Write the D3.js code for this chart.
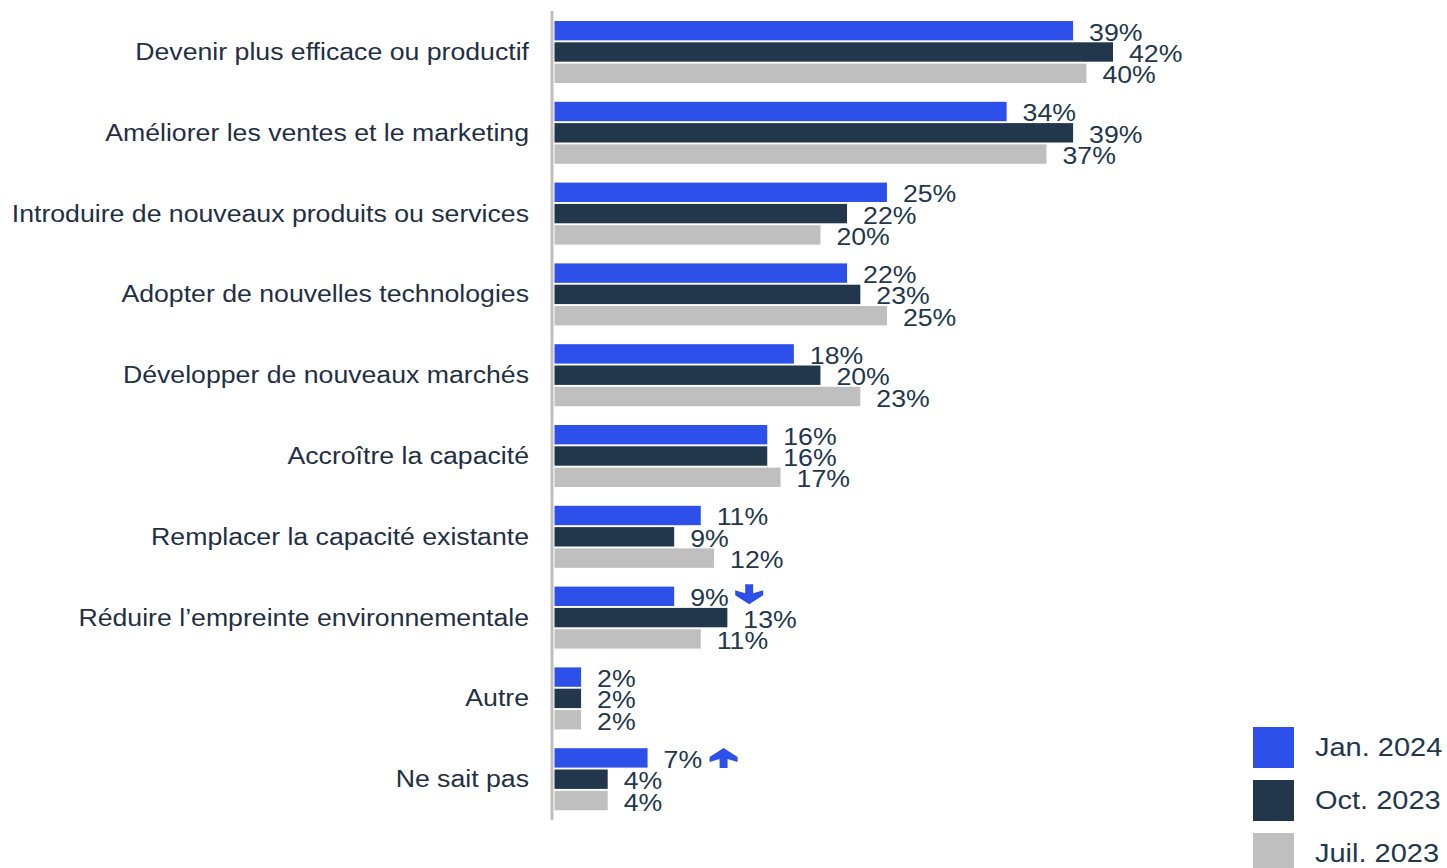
<!DOCTYPE html>
<html><head><meta charset="utf-8">
<script src="https://cdn.jsdelivr.net/npm/d3@7"></script>
<style>body{margin:0;background:#fff;overflow:hidden}svg{display:block;font-family:"Liberation Sans",Arial,sans-serif}</style>
</head><body><svg id="c" width="1447" height="868"></svg>
<script>
const categories = ["Devenir plus efficace ou productif","Améliorer les ventes et le marketing","Introduire de nouveaux produits ou services","Adopter de nouvelles technologies","Développer de nouveaux marchés","Accroître la capacité","Remplacer la capacité existante","Réduire l’empreinte environnementale","Autre","Ne sait pas"];
const seriesNames = ["Jan. 2024","Oct. 2023","Juil. 2023"];
const jan2024 = [39,34,25,22,18,16,11,9,2,7];
const oct2023 = [42,39,22,23,20,16,9,13,2,4];
const juil2023 = [40,37,20,25,23,17,12,11,2,4];
const arrows = [null,null,null,null,null,null,null,"down",null,"up"];
const colors = ["#2d50eb","#22374b","#bfbfbf"];
const series = [jan2024, oct2023, juil2023];
const SX = 1.16;

const svg = d3.select("#c");
const x = d3.scaleLinear().domain([0,42]).range([554.5,1113]);
const y = d3.scaleBand().domain(categories).range([21,810.2]).paddingInner(0.2327).paddingOuter(0);
const ySub = d3.scaleBand().domain(d3.range(3)).range([0,y.bandwidth()]).paddingInner(0.09);

svg.append("line").attr("x1",552).attr("x2",552).attr("y1",11).attr("y2",820)
  .attr("stroke","#bfbfbf").attr("stroke-width",3);

function stext(g, tx, ty, str, size, anchor, fill){
  return g.append("text").attr("transform",`translate(${tx},${ty}) scale(${SX},1)`)
    .attr("text-anchor",anchor).attr("font-size",size).attr("fill",fill).text(str);
}

categories.forEach((c,i)=>{
  const g = svg.append("g").attr("transform",`translate(0,${y(c)})`);
  series.forEach((s,j)=>{
    g.append("rect").attr("x",x(0)).attr("y",ySub(j)).attr("width",x(s[i])-x(0)).attr("height",ySub.bandwidth()).attr("fill",colors[j]);
    stext(g, x(s[i])+16, ySub(j)+ySub.bandwidth()/2+10, s[i]+"%", 23, "start", "#22374b");
  });
  stext(g, 529, y.bandwidth()/2+8, c, 23, "end", "#1f3044");
  if(arrows[i]){
    const ax = x(series[0][i]) + (arrows[i]==="down"?75:76);
    const ay = ySub(0)+ySub.bandwidth()/2 - (arrows[i]==="down"?2:0);
    const p = "M-4,-10 L4,-10 L4,-1 L14,-4 L14,1 L0,10 L-14,1 L-14,-4 L-4,-1 Z";
    g.append("path").attr("d",p).attr("fill","#2d50eb")
     .attr("transform",`translate(${ax},${ay}) ${arrows[i]==="up"?"rotate(180)":""}`);
  }
});

seriesNames.forEach((n,j)=>{
  svg.append("rect").attr("x",1253).attr("y",727+j*53).attr("width",41).attr("height",41).attr("fill",colors[j]);
  stext(svg, 1315, 747+j*53+9, n, 25, "start", "#22374b");
});
</script></body></html>
